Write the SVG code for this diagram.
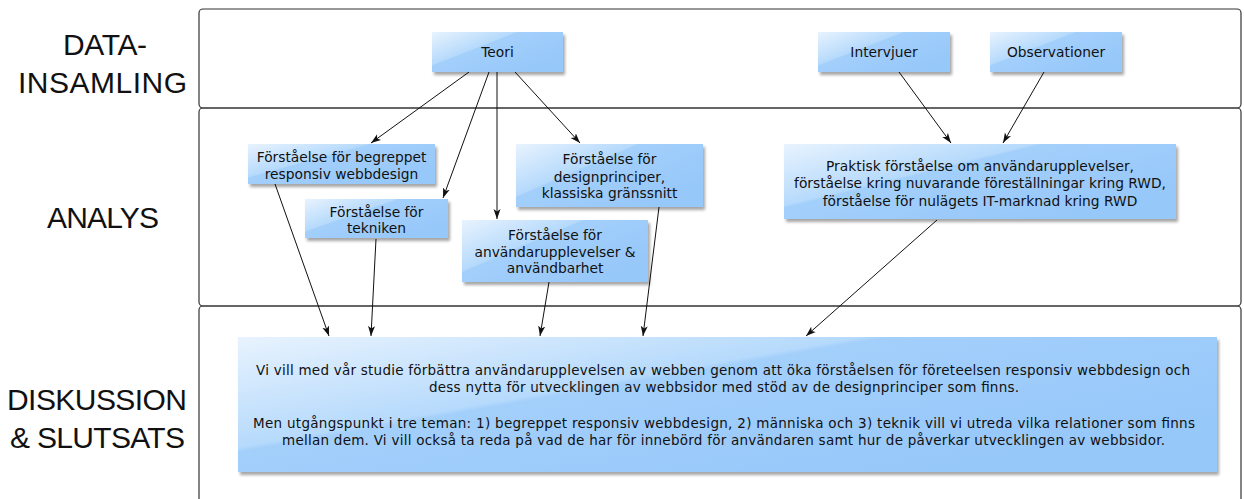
<svg xmlns="http://www.w3.org/2000/svg" width="1244" height="499" viewBox="0 0 1244 499">
<style>
.lane{fill:none;stroke:#333;stroke-width:1.2}
.lbl{font-family:"Liberation Sans",Arial,sans-serif;font-size:30px;fill:#111;text-anchor:middle}
.box{fill:url(#g);filter:url(#sh)}
.t{font-family:"DejaVu Sans","Liberation Sans",sans-serif;font-size:13.8px;fill:#111;text-anchor:middle}
.bt{font-family:"DejaVu Sans","Liberation Sans",sans-serif;font-size:13.5px;fill:#111;text-anchor:middle}
.c{fill:none;stroke:#111;stroke-width:1;marker-end:url(#ah)}
</style>
<defs>
<linearGradient id="g" x1="0" y1="0" x2="0.9" y2="0.7">
<stop offset="0" stop-color="#e8f3fe"/>
<stop offset="0.44" stop-color="#b6dafc"/>
<stop offset="0.46" stop-color="#a3cffb"/>
<stop offset="1" stop-color="#97c8fa"/>
</linearGradient>
<filter id="sh" x="-10%" y="-20%" width="125%" height="150%">
<feDropShadow dx="2" dy="3" stdDeviation="1.6" flood-color="#000" flood-opacity="0.35"/>
</filter>
<marker id="ah" viewBox="0 0 10 8" refX="10" refY="4" markerWidth="10" markerHeight="8" markerUnits="userSpaceOnUse" orient="auto">
<path d="M0,0.5 L10,4 L0,7.5 L2.5,4 z" fill="#111"/>
</marker>
</defs>
<rect width="1244" height="499" fill="#fff"/>

<g id="lanes">
<rect class="lane" x="199" y="9" width="1042" height="99" rx="4"/>
<rect class="lane" x="199" y="108" width="1042" height="198" rx="4"/>
<rect class="lane" x="199" y="306" width="1042" height="210" rx="4"/>
<text class="lbl" x="105" y="55" textLength="84">DATA-</text>
<text class="lbl" x="102.5" y="93" textLength="169">INSAMLING</text>
<text class="lbl" x="103" y="228" textLength="112">ANALYS</text>
<text class="lbl" x="97" y="410" textLength="180">DISKUSSION</text>
<text class="lbl" x="97.5" y="448" textLength="175">&amp; SLUTSATS</text>
</g>

<g id="connectors">
<line class="c" x1="469" y1="72" x2="371" y2="143"/>
<line class="c" x1="489" y1="72" x2="443" y2="198"/>
<line class="c" x1="497" y1="72" x2="497" y2="219"/>
<line class="c" x1="515" y1="72" x2="580" y2="143"/>
<line class="c" x1="899" y1="72" x2="951" y2="143"/>
<line class="c" x1="1044" y1="72" x2="1003" y2="143"/>
<line class="c" x1="275" y1="184" x2="329" y2="336"/>
<line class="c" x1="376" y1="239" x2="371" y2="336"/>
<line class="c" x1="549" y1="282" x2="540" y2="336"/>
<line class="c" x1="659" y1="207" x2="643" y2="336"/>
<line class="c" x1="937" y1="220" x2="806" y2="336"/>
</g>

<g id="teori">
<rect class="box" x="432" y="32" width="131" height="40"/>
<text class="t" x="497.5" y="57">Teori</text>
</g>
<g id="intervjuer">
<rect class="box" x="818" y="32" width="132" height="40"/>
<text class="t" x="884" y="57">Intervjuer</text>
</g>
<g id="observationer">
<rect class="box" x="990" y="32" width="132" height="40"/>
<text class="t" x="1056" y="57">Observationer</text>
</g>
<g id="begreppet">
<rect class="box" x="248" y="144" width="187" height="40"/>
<text class="t" x="341.5" y="162">Förståelse för begreppet</text>
<text class="t" x="341.5" y="178.5">responsiv webbdesign</text>
</g>
<g id="tekniken">
<rect class="box" x="305" y="199" width="143" height="39"/>
<text class="t" x="376.5" y="216.5">Förståelse för</text>
<text class="t" x="376.5" y="233">tekniken</text>
</g>
<g id="designprinciper">
<rect class="box" x="516" y="144" width="187" height="63"/>
<text class="t" x="609.5" y="164">Förståelse för</text>
<text class="t" x="609.5" y="181.5">designprinciper,</text>
<text class="t" x="609.5" y="198">klassiska gränssnitt</text>
</g>
<g id="anvandarupplevelser">
<rect class="box" x="462" y="220" width="186" height="62"/>
<text class="t" x="555" y="240">Förståelse för</text>
<text class="t" x="555" y="256.5">användarupplevelser &amp;</text>
<text class="t" x="555" y="273">användbarhet</text>
</g>
<g id="praktisk">
<rect class="box" x="784" y="144" width="392" height="75"/>
<text class="t" x="980" y="170.5">Praktisk förståelse om användarupplevelser,</text>
<text class="t" x="980" y="188">förståelse kring nuvarande föreställningar kring RWD,</text>
<text class="t" x="980" y="205.5">förståelse för nulägets IT-marknad kring RWD</text>
</g>
<g id="slutsats">
<rect class="box" x="238" y="337" width="979" height="135"/>
<text class="bt" x="723" y="375" textLength="934">Vi vill med vår studie förbättra användarupplevelsen av webben genom att öka förståelsen för företeelsen responsiv webbdesign och</text>
<text class="bt" x="724" y="392" textLength="590">dess nytta för utvecklingen av webbsidor med stöd av de designprinciper som finns.</text>
<text class="bt" x="724" y="428" textLength="942">Men utgångspunkt i tre teman: 1) begreppet responsiv webbdesign, 2) människa och 3) teknik vill vi utreda vilka relationer som finns</text>
<text class="bt" x="723.5" y="445" textLength="883">mellan dem. Vi vill också ta reda på vad de har för innebörd för användaren samt hur de påverkar utvecklingen av webbsidor.</text>
</g>
</svg>
